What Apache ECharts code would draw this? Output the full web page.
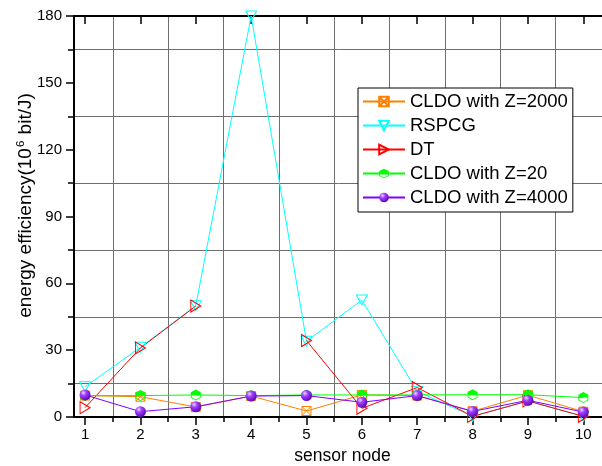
<!DOCTYPE html>
<html><head><meta charset="utf-8">
<script src="https://cdn.jsdelivr.net/npm/echarts@6/dist/echarts.min.js"></script>
<style>html,body{margin:0;padding:0;background:#fff}#c{width:602px;height:466px}</style>
</head><body><div id="c"></div>
<script>
// ---- data ----
const nodes = [1, 2, 3, 4, 5, 6, 7, 8, 9, 10];
const seriesNames = ['CLDO with Z=2000', 'RSPCG', 'DT', 'CLDO with Z=20', 'CLDO with Z=4000'];
const cldoZ2000 = [9.6, 9.1, 4.5, 9.4, 2.7, 9.9, 9.6, 2.6, 9.8, 2.4];
const rspcg     = [13.6, 31.3, 50.0, 180.0, 34.0, 52.5, 11.5, 0.3, 7.2, 0.3];
const dt        = [4.2, 31.0, 49.8, null, 34.3, 3.9, 13.2, 0.3, 7.2, 0.3];
const cldoZ20   = [9.6, 9.6, 9.9, 9.6, 9.9, 9.9, 9.9, 10.0, 10.0, 8.7];
const cldoZ4000 = [9.9, 2.4, 4.6, 9.4, 9.6, 6.6, 9.6, 2.5, 7.5, 2.2];
const yMin = 0, yMax = 180, yStep = 30;
const xMin = 0.8, xMax = 10.5;

// ---- build ----
const FONT = 'Liberation Sans, Arial, sans-serif';
const midTicks = nodes.slice(0, -1).map((v, i) => (v + nodes[i + 1]) / 2);
const pairs = arr => nodes.map((n, i) => [n, arr[i]]);
const hollow = c => ({ color: 'rgba(255,255,255,0)', borderColor: c, borderWidth: 1 });

const symSquareX = 'path://M0,0H10V10H0Z M0,0L10,10 M10,0L0,10';
const symDown = 'path://M0,0L10,0L5,9Z';
const symRight = 'path://M0,0L9,5L0,10Z';
const symHalfHex = 'path://M1,10L1,5L10,0L19,5L19,10Z M19,10L19,15L10,20L1,15L1,10L2.6,10L2.6,14.1L10,18.2L17.4,14.1L17.4,10Z';

const sphere = {
  type: 'radial', x: 0.35, y: 0.3, r: 0.75,
  colorStops: [
    { offset: 0, color: '#F0D8FF' },
    { offset: 0.35, color: '#A040FF' },
    { offset: 1, color: '#5A00B0' }
  ]
};

const series = [
  { name: seriesNames[0], data: pairs(cldoZ2000), color: '#FF8000', symbol: symSquareX, symbolSize: 9, itemStyle: hollow('#FF8000') },
  { name: seriesNames[1], data: pairs(rspcg), color: '#00FFFF', symbol: symDown, symbolSize: [11, 10], itemStyle: hollow('#00FFFF') },
  { name: seriesNames[2], data: pairs(dt), color: '#FF0000', symbol: symRight, symbolSize: [10, 12], itemStyle: hollow('#FF0000') },
  { name: seriesNames[3], data: pairs(cldoZ20), color: '#00FF00', symbol: symHalfHex, symbolSize: [10, 11], itemStyle: { color: '#00FF00' } },
  { name: seriesNames[4], data: pairs(cldoZ4000), color: '#8000FF', symbol: 'circle', symbolSize: 11, itemStyle: { color: sphere } }
].map(s => ({
  type: 'line',
  name: s.name,
  data: s.data,
  xAxisIndex: 0, yAxisIndex: 0,
  symbol: s.symbol,
  symbolSize: s.symbolSize,
  showAllSymbol: true,
  connectNulls: false,
  lineStyle: { color: s.color, width: 1 },
  itemStyle: s.itemStyle,
  emphasis: { disabled: true },
  animation: false
}));

const chart = echarts.init(document.getElementById('c'), null, { renderer: 'canvas' });
chart.setOption({
  backgroundColor: '#fff',
  animation: false,
  grid: { left: 74, top: 16, width: 537, height: 401, containLabel: false, outerBoundsMode: 'none' },
  legend: {
    data: seriesNames,
    orient: 'vertical',
    left: 358, top: 88,
    backgroundColor: '#fff',
    borderColor: '#000', borderWidth: 1, borderRadius: 0,
    padding: [4, 5, 5, 4],
    itemWidth: 42, itemHeight: 12, itemGap: 5,
    textStyle: { fontFamily: FONT, fontSize: 18.5, color: '#000' }
  },
  xAxis: [
    {
      type: 'value', min: xMin, max: xMax, position: 'bottom',
      name: 'sensor node', nameLocation: 'middle', nameGap: 30, nameMoveOverlap: false,
      nameTextStyle: { fontFamily: FONT, fontSize: 17.5, color: '#000' },
      axisLine: { show: true, onZero: false, lineStyle: { color: '#000', width: 2 } },
      axisTick: { show: true, inside: false, length: 8, customValues: nodes, lineStyle: { color: '#000', width: 1.5 } },
      axisLabel: { show: true, margin: 10, customValues: nodes, fontFamily: FONT, fontSize: 15, color: '#000' },
      splitLine: { show: false }
    },
    {
      type: 'value', min: xMin, max: xMax, position: 'bottom',
      axisLine: { show: false },
      axisTick: { show: true, inside: false, length: 5, customValues: midTicks, lineStyle: { color: '#000', width: 1.5 } },
      axisLabel: { show: false, customValues: midTicks },
      splitLine: { show: true, lineStyle: { color: '#6e6e6e', width: 1 } }
    },
    {
      type: 'value', min: xMin, max: xMax, position: 'top',
      axisLine: { show: true, onZero: false, lineStyle: { color: '#000', width: 2 } },
      axisTick: { show: true, inside: true, length: 8, customValues: nodes, lineStyle: { color: '#000', width: 1.5 } },
      axisLabel: { show: false, customValues: nodes },
      splitLine: { show: false }
    }
  ],
  yAxis: [{
    type: 'value', min: yMin, max: yMax, interval: yStep,
    name: '{a|energy efficiency(10}{s|6}{a| bit/J)}',
    nameLocation: 'middle', nameGap: 37, nameMoveOverlap: false,
    nameTextStyle: {
      fontFamily: FONT, fontSize: 19, color: '#000',
      padding: [0, 0, 0, 22],
      rich: {
        a: { fontFamily: FONT, fontSize: 19, color: '#000' },
        s: { fontFamily: FONT, fontSize: 11.5, color: '#000', padding: [0, 1, 10, 1] }
      }
    },
    axisLine: { show: true, onZero: false, lineStyle: { color: '#000', width: 2 } },
    axisTick: { show: true, inside: false, length: 8, lineStyle: { color: '#000', width: 1.5 } },
    minorTick: { show: true, splitNumber: 2, length: 6, lineStyle: { color: '#000', width: 1.5 } },
    minorSplitLine: { show: true, lineStyle: { color: '#6e6e6e', width: 1 } },
    splitLine: { show: false },
    axisLabel: { margin: 12, fontFamily: FONT, fontSize: 15, color: '#000' }
  }],
  series: series
});
</script>
</body></html>
